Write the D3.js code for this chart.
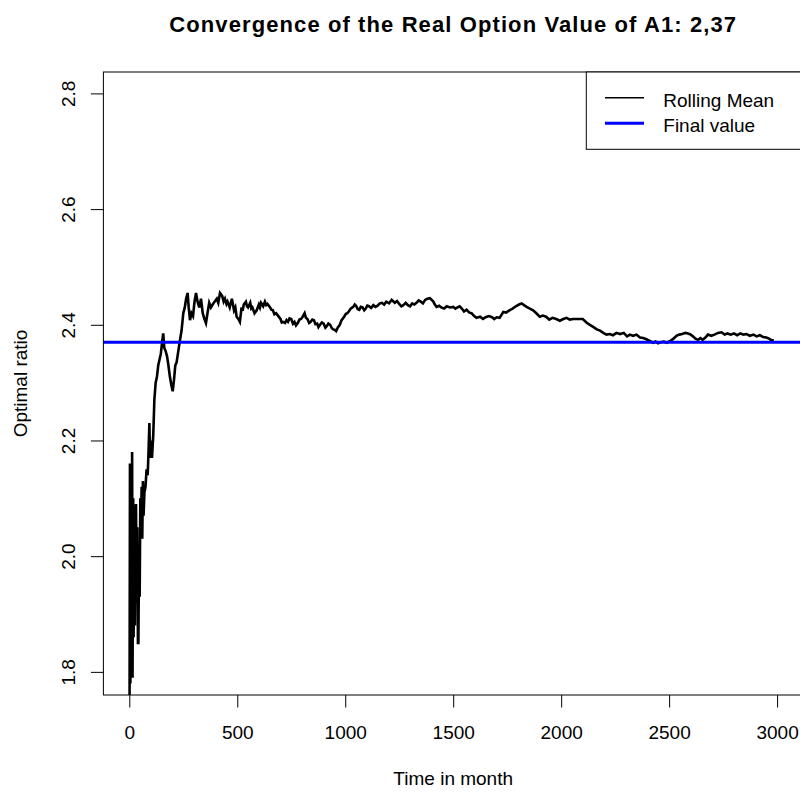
<!DOCTYPE html>
<html>
<head>
<meta charset="utf-8">
<script src="https://cdn.jsdelivr.net/npm/d3@7"></script>
<style>
  html, body { margin: 0; padding: 0; background: #fff; }
  svg { display: block; font-family: "Liberation Sans", Arial, sans-serif; }
</style>
</head>
<body>
<svg id="chart" width="800" height="792"></svg>
<script>
// Rolling mean of the optimal ratio, by month
const months = [
  1, 3, 5, 8, 10, 13, 15, 18, 20, 23, 26, 29, 31, 34, 37, 40, 42, 45, 48, 51,
  54, 57, 60, 63, 66, 70, 75, 80, 85, 88, 93, 96, 100, 105, 111, 116, 122, 128, 134, 140,
  146, 152, 157, 162, 168, 175, 181, 188, 195, 201, 207, 213, 219, 227, 235, 242, 250, 257, 263, 270,
  275, 281, 288, 295, 302, 309, 316, 324, 332, 340, 348, 355, 362, 370, 378, 386, 395, 405, 412, 420, 430,
  437, 443, 450, 455, 465, 470, 475, 485, 491, 497, 505, 512, 520, 525, 530, 540, 545, 550, 560, 565, 570, 580, 590, 600, 605, 610, 620, 628, 634, 640,
  652, 658, 665, 672, 680, 690, 700, 706, 712, 721, 728, 735, 742, 750, 758, 765, 772, 780, 788, 795, 803, 812, 818, 825, 833, 840, 848, 855, 862, 870, 876, 883, 892, 900, 908, 915,
  922, 930, 938, 945, 952, 958, 965, 975, 983, 995, 1003, 1010, 1018, 1025, 1037, 1044, 1050, 1058, 1065, 1072, 1080, 1088, 1095, 1102, 1110, 1120, 1130, 1140, 1150, 1160, 1170, 1180, 1190, 1203, 1215,
  1230, 1240, 1250, 1260, 1269, 1280, 1290, 1300, 1310, 1320, 1330, 1340, 1350, 1360, 1370, 1380, 1392, 1408, 1415, 1423, 1435, 1445, 1458, 1470, 1485, 1500, 1510, 1520, 1530, 1540, 1550, 1562, 1575, 1585, 1597, 1608,
  1625, 1638, 1650, 1665, 1680, 1690, 1701, 1715, 1732, 1745, 1760, 1775, 1790, 1805, 1817, 1828, 1840, 1855, 1870, 1885, 1901, 1915, 1930, 1945, 1960, 1977, 1994, 2010, 2025, 2040, 2056, 2078, 2100, 2117, 2133, 2150, 2165,
  2180, 2195, 2210, 2225, 2240, 2256, 2273, 2290, 2305, 2318, 2333, 2349, 2365, 2380, 2395, 2410, 2426, 2437, 2449, 2462, 2475, 2490, 2505, 2520, 2534, 2547, 2560, 2575, 2588, 2600, 2610, 2622, 2634, 2645, 2655, 2668, 2680, 2695, 2710,
  2726, 2743, 2757, 2770, 2785, 2800, 2815, 2830, 2845, 2858, 2874, 2890, 2905, 2920, 2935, 2950, 2963, 2975, 2985
];
const rollingMean = [
  1.70, 2.16, 1.78, 2.05, 1.80, 2.18, 1.79, 2.10, 1.86, 2.06, 1.88, 2.08, 2.09, 1.92, 2.05, 1.85, 1.85, 2.00, 1.93, 2.10,
  2.04, 2.12, 2.03, 2.13, 2.07, 2.11, 2.12, 2.15, 2.14, 2.17, 2.23, 2.17, 2.20, 2.17, 2.21, 2.27, 2.30, 2.31, 2.33, 2.34,
  2.35, 2.37, 2.385, 2.36, 2.355, 2.345, 2.33, 2.31, 2.295, 2.285, 2.305, 2.33, 2.335, 2.355, 2.374, 2.39, 2.42, 2.43, 2.445, 2.455,
  2.43, 2.408, 2.42, 2.415, 2.44, 2.455, 2.44, 2.43, 2.445, 2.42, 2.41, 2.403, 2.42, 2.438, 2.43, 2.435, 2.44, 2.445, 2.438, 2.455, 2.45,
  2.44, 2.445, 2.436, 2.44, 2.43, 2.438, 2.445, 2.425, 2.43, 2.414, 2.41, 2.405, 2.43, 2.424, 2.435, 2.44, 2.432, 2.43, 2.438, 2.428, 2.43, 2.42, 2.425, 2.435, 2.43, 2.438, 2.432, 2.44, 2.434, 2.436,
  2.43, 2.426, 2.425, 2.418, 2.42, 2.415, 2.41, 2.404, 2.405, 2.403, 2.408, 2.405, 2.411, 2.41, 2.402, 2.405, 2.399, 2.403, 2.409, 2.41, 2.414, 2.42, 2.412, 2.41, 2.403, 2.405, 2.409, 2.408, 2.401, 2.402, 2.396, 2.40, 2.404, 2.402, 2.395, 2.398,
  2.402, 2.40, 2.394, 2.392, 2.391, 2.389, 2.395, 2.40, 2.408, 2.414, 2.419, 2.42, 2.424, 2.428, 2.431, 2.435, 2.433, 2.427, 2.426, 2.431, 2.43, 2.425, 2.428, 2.433, 2.432, 2.429, 2.434, 2.431, 2.433, 2.437, 2.438, 2.435, 2.44, 2.437, 2.443,
  2.438, 2.441, 2.436, 2.432, 2.434, 2.438, 2.434, 2.432, 2.437, 2.435, 2.438, 2.442, 2.44, 2.437, 2.443, 2.445, 2.446, 2.44, 2.435, 2.431, 2.433, 2.43, 2.428, 2.432, 2.43, 2.431, 2.428, 2.43, 2.432, 2.428, 2.423, 2.426, 2.421, 2.42, 2.415, 2.412,
  2.414, 2.41, 2.413, 2.415, 2.413, 2.41, 2.413, 2.412, 2.422, 2.421, 2.425, 2.428, 2.432, 2.435, 2.437, 2.434, 2.431, 2.428, 2.425, 2.42, 2.414, 2.416, 2.414, 2.409, 2.412, 2.41, 2.407, 2.41, 2.412, 2.409, 2.41, 2.41, 2.41, 2.404, 2.40, 2.396, 2.392,
  2.39, 2.386, 2.383, 2.384, 2.382, 2.386, 2.384, 2.386, 2.38, 2.383, 2.381, 2.383, 2.378, 2.377, 2.375, 2.372, 2.369, 2.371, 2.368, 2.37, 2.371, 2.369, 2.372, 2.376, 2.381, 2.383, 2.384, 2.386, 2.385, 2.383, 2.38, 2.376, 2.374, 2.377, 2.374, 2.378, 2.383, 2.381, 2.383,
  2.386, 2.387, 2.383, 2.385, 2.383, 2.385, 2.382, 2.385, 2.383, 2.384, 2.381, 2.383, 2.38, 2.382, 2.379, 2.378, 2.376, 2.373, 2.373
];
const finalValue = 2.37;
const xTicks = [0, 500, 1000, 1500, 2000, 2500, 3000];
const yTicks = [1.8, 2.0, 2.2, 2.4, 2.6, 2.8];
const legendLabels = ["Rolling Mean", "Final value"];
const legendColors = ["#000000", "#0000ff"];
const titleText = "Convergence of the Real Option Value of A1: 2,37";
const xLabel = "Time in month";
const yLabel = "Optimal ratio";

const svg = d3.select("#chart");
const plot = { left: 103.4, right: 803, top: 72, bottom: 695 };
const fontSize = 19;

const x = d3.scaleLinear().domain([-120, 3120]).range([plot.left, plot.right]);
const y = d3.scaleLinear().domain([1.76, 2.837]).range([plot.bottom, plot.top]);

svg.append("defs").append("clipPath").attr("id", "plot-clip")
  .append("rect")
  .attr("x", plot.left).attr("y", plot.top)
  .attr("width", plot.right - plot.left).attr("height", plot.bottom - plot.top);

const data = months.map((m, i) => ({ m, v: rollingMean[i] }));

// Rolling mean trace
svg.append("path")
  .datum(data)
  .attr("clip-path", "url(#plot-clip)")
  .attr("fill", "none")
  .attr("stroke", "#000")
  .attr("stroke-width", 2.6)
  .attr("stroke-linejoin", "miter")
  .attr("d", d3.line().x(d => x(d.m)).y(d => y(d.v)));

// Final value reference line
svg.append("line")
  .attr("x1", plot.left).attr("x2", plot.right)
  .attr("y1", y(finalValue)).attr("y2", y(finalValue))
  .attr("stroke", "#0000ff").attr("stroke-width", 3);

// Axes
const xAxis = d3.axisBottom(x).tickValues(xTicks).tickSize(12.5).tickPadding(6).tickFormat(d3.format("d"));
const gx = svg.append("g").attr("transform", `translate(0,${plot.bottom})`).call(xAxis);
gx.select(".domain").remove();
gx.selectAll(".tick line").attr("stroke", "#000");
gx.selectAll(".tick text")
  .attr("font-size", fontSize).attr("font-family", "Liberation Sans, Arial, sans-serif")
  .attr("fill", "#000").attr("y", 0).attr("dy", null)
  .attr("transform", "translate(0,44)");

const yAxis = d3.axisLeft(y).tickValues(yTicks).tickSize(12.5).tickFormat(d3.format(".1f"));
const gy = svg.append("g").attr("transform", `translate(${plot.left},0)`).call(yAxis);
gy.select(".domain").remove();
gy.selectAll(".tick line").attr("stroke", "#000");
gy.selectAll(".tick text")
  .attr("font-size", fontSize).attr("font-family", "Liberation Sans, Arial, sans-serif")
  .attr("fill", "#000").attr("x", 0).attr("dy", null)
  .attr("text-anchor", "middle")
  .attr("transform", `translate(${75 - plot.left},0) rotate(-90)`);

// Plot frame
svg.append("rect")
  .attr("x", plot.left).attr("y", plot.top)
  .attr("width", plot.right - plot.left).attr("height", plot.bottom - plot.top)
  .attr("fill", "none").attr("stroke", "#000").attr("stroke-width", 1);

// Title and axis titles
svg.append("text")
  .attr("x", (plot.left + plot.right) / 2).attr("y", 31.5)
  .attr("text-anchor", "middle").attr("font-weight", "bold")
  .attr("font-size", 22).attr("letter-spacing", 1.1).text(titleText);

svg.append("text")
  .attr("x", (plot.left + plot.right) / 2).attr("y", 785)
  .attr("text-anchor", "middle").attr("font-size", fontSize).text(xLabel);

svg.append("text")
  .attr("transform", `translate(27,${(plot.top + plot.bottom) / 2}) rotate(-90)`)
  .attr("text-anchor", "middle").attr("font-size", fontSize).text(yLabel);

// Legend
const legend = svg.append("g");
legend.append("rect")
  .attr("x", 586.3).attr("y", plot.top)
  .attr("width", plot.right - 586.3).attr("height", 149.3 - plot.top)
  .attr("fill", "#fff").attr("stroke", "#000").attr("stroke-width", 1);
const legendRows = [97.7, 123.3];
const legendWidths = [1.4, 3];
legendLabels.forEach((label, i) => {
  legend.append("line")
    .attr("x1", 605).attr("x2", 644)
    .attr("y1", legendRows[i]).attr("y2", legendRows[i])
    .attr("stroke", legendColors[i]).attr("stroke-width", legendWidths[i]);
  legend.append("text")
    .attr("x", 663.3).attr("y", legendRows[i] + 8.8)
    .attr("font-size", fontSize).text(label);
});
</script>
</body>
</html>
